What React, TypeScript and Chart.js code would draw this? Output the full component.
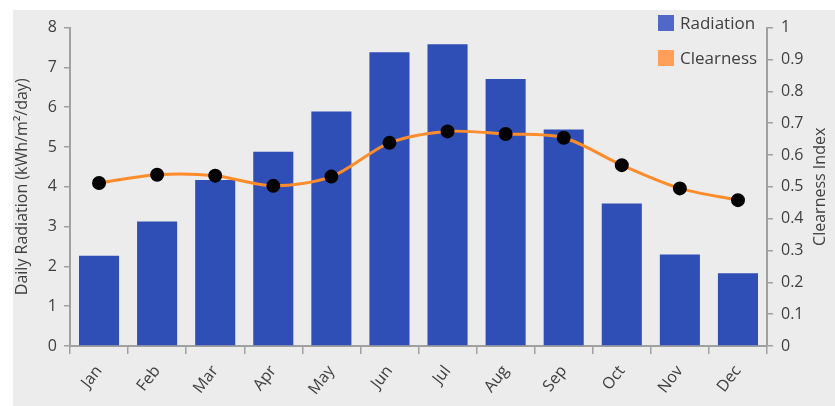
import React, { useEffect, useRef } from "react";
import { Chart, registerables } from "chart.js";

Chart.register(...registerables);

const months = ["Jan", "Feb", "Mar", "Apr", "May", "Jun", "Jul", "Aug", "Sep", "Oct", "Nov", "Dec"];
const radiation = [2.27, 3.13, 4.17, 4.88, 5.89, 7.38, 7.58, 6.71, 5.44, 3.58, 2.3, 1.83];
const clearness = [0.512, 0.538, 0.535, 0.503, 0.532, 0.638, 0.674, 0.666, 0.654, 0.568, 0.495, 0.458];

const FONT = "'Open Sans', 'Noto Sans', sans-serif";
const TEXT = "#404040";
const AXIS = "#a0a0a0";
const BAR = "#2f4eb6";
const LINE = "#ff8c2a";

const rightTitle = {
  id: "rightTitle",
  afterDraw(chart: any) {
    const { ctx, chartArea } = chart;
    ctx.save();
    ctx.translate(807, (chartArea.top + chartArea.bottom) / 2);
    ctx.rotate(-Math.PI / 2);
    ctx.font = `16px ${FONT}`;
    ctx.fillStyle = TEXT;
    ctx.textAlign = "center";
    ctx.textBaseline = "middle";
    ctx.fillText("Clearness Index", 0, 0);
    ctx.restore();
  },
};

export default function App() {
  const ref = useRef<HTMLCanvasElement | null>(null);
  useEffect(() => {
    document.body.style.margin = "0";
    const chart = new Chart(ref.current as HTMLCanvasElement, {
      type: "bar",
      data: {
        labels: months,
        datasets: [
          {
            type: "line",
            label: "Clearness",
            data: clearness,
            yAxisID: "y1",
            borderColor: LINE,
            backgroundColor: LINE,
            borderWidth: 3,
            pointRadius: 5.5,
            pointBackgroundColor: "#000",
            pointBorderColor: "#000",
            tension: 0.3,
            order: 0,
          } as any,
          {
            type: "bar",
            label: "Radiation",
            data: radiation,
            yAxisID: "y",
            backgroundColor: BAR,
            barPercentage: 0.69,
            categoryPercentage: 1,
            order: 1,
          },
        ],
      },
      plugins: [rightTitle],
      options: {
        responsive: false,
        animation: false,
        layout: { padding: { top: 14, right: 0, left: 0, bottom: 0 } },
        plugins: { legend: { display: false }, tooltip: { enabled: false } },
        scales: {
          x: {
            grid: { display: true, drawOnChartArea: false, drawTicks: true, tickLength: 8, color: AXIS, lineWidth: 1.5, offset: true },
            border: { display: true, color: AXIS, width: 2 },
            ticks: { color: TEXT, font: { family: FONT, size: 16 }, minRotation: 52, maxRotation: 52, padding: 8 },
            afterFit: (s: any) => { s.height = 60; },
          },
          y: {
            position: "left",
            min: 0,
            max: 8,
            grid: { display: true, drawOnChartArea: false, drawTicks: true, tickLength: 6, color: AXIS, lineWidth: 1.5 },
            border: { display: true, color: AXIS, width: 2 },
            ticks: { stepSize: 1, color: TEXT, font: { family: FONT, size: 16 }, padding: 7 },
            title: { display: true, text: "Daily Radiation (kWh/m²/day)", color: TEXT, font: { family: FONT, size: 16 }, padding: 0 },
            afterFit: (s: any) => { s.width = 57; },
          },
          y1: {
            position: "right",
            min: 0,
            max: 1,
            grid: { display: true, drawOnChartArea: false, drawTicks: true, tickLength: 6, color: AXIS, lineWidth: 1.5 },
            border: { display: true, color: AXIS, width: 2 },
            ticks: { stepSize: 0.1, color: TEXT, font: { family: FONT, size: 16 }, padding: 8, callback: (v: any) => String(Math.round(Number(v) * 10) / 10) },
            afterFit: (s: any) => { s.width = 68; },
          },
        },
      },
    });
    return () => chart.destroy();
  }, []);

  const legendItem = (color: string, text: string, top: number) => (
    <div style={{ position: "absolute", left: 658 - 13, top: top - 10, display: "flex", alignItems: "center", font: `17px ${FONT}`, color: TEXT }}>
      <span style={{ display: "inline-block", width: 16, height: 16, background: color, marginRight: 6 }} />
      <span>{text}</span>
    </div>
  );

  return (
    <div style={{ position: "relative", width: 835, height: 406, background: "#fff", overflow: "hidden" }}>
      <div style={{ position: "absolute", left: 13, top: 10, width: 822, height: 396, background: "#ececec" }}>
        <canvas ref={ref} width={822} height={396} />
        {legendItem("#5068c8", "Radiation", 11)}
        {legendItem("#ff9f5a", "Clearness", 46)}
      </div>
    </div>
  );
}
